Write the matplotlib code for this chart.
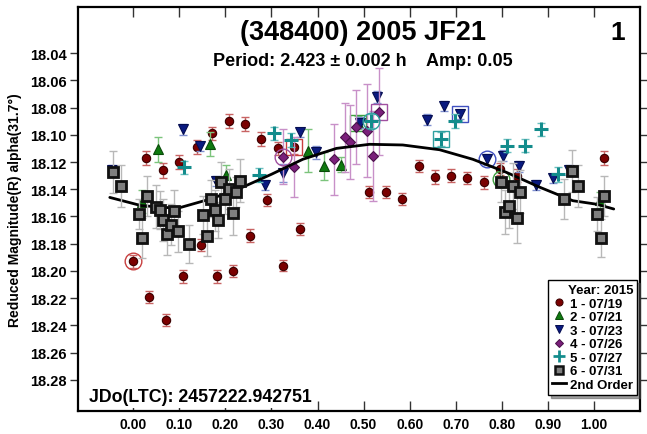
import matplotlib
matplotlib.use("Agg")
import matplotlib.pyplot as plt
from matplotlib.lines import Line2D

plt.rcParams['font.family'] = ['Liberation Sans', 'DejaVu Sans']
plt.rcParams['font.weight'] = 'bold'

# ---- observations per session: rotational phase, reduced magnitude, error ----
s1_phase = [0.000, 0.028, 0.035, 0.065, 0.070, 0.100, 0.107, 0.138, 0.146, 0.171,
            0.181, 0.207, 0.217, 0.243, 0.253, 0.278, 0.290, 0.314, 0.326, 0.348,
            0.363, 0.511, 0.548, 0.584, 0.620, 0.654, 0.690, 0.725, 0.761, 0.796,
            0.832, 1.022]
s1_mag = [18.193, 18.117, 18.219, 18.126, 18.236, 18.120, 18.204, 18.109, 18.181, 18.099,
          18.204, 18.090, 18.200, 18.092, 18.174, 18.103, 18.148, 18.110, 18.196, 18.109,
          18.169, 18.142, 18.142, 18.147, 18.123, 18.131, 18.130, 18.132, 18.135, 18.125,
          18.130, 18.117]
s1_err = [0.0045, 0.005, 0.0045, 0.0055, 0.0045, 0.005, 0.0045, 0.005, 0.0045, 0.005,
          0.0045, 0.005, 0.0045, 0.005, 0.0045, 0.005, 0.0045, 0.005, 0.004, 0.005,
          0.0045, 0.0045, 0.0045, 0.0045, 0.0042, 0.005, 0.0045, 0.0045, 0.0045, 0.0045,
          0.0045, 0.005]

s2_phase = [0.019, 0.054, 0.167, 0.202, 0.379, 0.415, 0.450, 0.488, 0.799, 1.013]
s2_mag = [18.149, 18.1105, 18.107, 18.1295, 18.1117, 18.123, 18.122, 18.091, 18.1325, 18.148]
s2_err = [0.0088, 0.0092, 0.0088, 0.0073, 0.016, 0.0103, 0.0055, 0.005, 0.006, 0.006]

s3_phase = [-0.047, 0.107, 0.144, 0.180, 0.287, 0.325, 0.361, 0.397, 0.493, 0.529,
            0.638, 0.674, 0.710, 0.767, 0.803, 0.838, 0.874, 0.912, 0.946]
s3_mag = [18.126, 18.096, 18.1085, 18.134, 18.137, 18.128, 18.098, 18.113, 18.091, 18.0725,
          18.089, 18.079, 18.085, 18.118, 18.1155, 18.123, 18.137, 18.132, 18.126]
s3_err = [0.0035, 0.004, 0.0035, 0.0035, 0.0035, 0.0064, 0.0033, 0.005, 0.004, 0.0045,
          0.004, 0.0035, 0.0035, 0.004, 0.004, 0.004, 0.0035, 0.0035, 0.0035]

s4_phase = [0.325, 0.348, 0.435, 0.459, 0.471, 0.484, 0.508, 0.520, 0.533]
s4_mag = [18.116, 18.124, 18.118, 18.102, 18.1055, 18.0945, 18.097, 18.1155, 18.083]
s4_err = [0.0205, 0.022, 0.026, 0.025, 0.027, 0.027, 0.034, 0.033, 0.032]

s5_phase = [0.111, 0.272, 0.305, 0.343, 0.517, 0.669, 0.699, 0.812, 0.850, 0.886, 0.922]
s5_mag = [18.124, 18.1295, 18.099, 18.104, 18.0897, 18.103, 18.0897, 18.108, 18.108, 18.096, 18.129]
s5_err = [0.0045, 0.005, 0.005, 0.005, 0.005, 0.005, 0.005, 0.005, 0.005, 0.005, 0.0055]

s6_phase = [-0.044, -0.027, 0.013, 0.020, 0.029, 0.049, 0.057, 0.065, 0.073, 0.082,
            0.088, 0.096, 0.120, 0.152, 0.161, 0.168, 0.177, 0.183, 0.191, 0.199,
            0.207, 0.216, 0.223, 0.232, 0.799, 0.808, 0.816, 0.825, 0.832, 0.839,
            0.935, 0.952, 0.966, 1.007, 1.015, 1.022]
s6_mag = [18.127, 18.1378, 18.1582, 18.1759, 18.1447, 18.1527, 18.1552, 18.1628, 18.173, 18.1661,
          18.1557, 18.1708, 18.1802, 18.1589, 18.1743, 18.1468, 18.1554, 18.1626, 18.1349, 18.1469,
          18.1396, 18.1577, 18.1422, 18.1337, 18.1345, 18.1569, 18.1525, 18.1378, 18.1613, 18.1418,
          18.1472, 18.1264, 18.1378, 18.1582, 18.176, 18.1447]
s6_err = [0.0154, 0.0154, 0.011, 0.0147, 0.0147, 0.0155, 0.014, 0.0155, 0.015, 0.015,
          0.015, 0.015, 0.0143, 0.014, 0.0147, 0.0134, 0.015, 0.0135, 0.015, 0.011,
          0.0147, 0.0157, 0.011, 0.016, 0.015, 0.016, 0.016, 0.017, 0.018, 0.016,
          0.0147, 0.0153, 0.0153, 0.0125, 0.014, 0.0147]

# second-order Fourier fit, sampled along the phase axis
fit_phase = [-0.051, 0.017, 0.096, 0.169, 0.234, 0.300, 0.368, 0.441, 0.513, 0.585,
             0.665, 0.737, 0.810, 0.883, 0.954, 1.006, 1.043]
fit_mag = [18.146, 18.152, 18.154, 18.147, 18.139, 18.129, 18.118, 18.110, 18.107, 18.1075,
           18.111, 18.118, 18.1276, 18.1386, 18.1484, 18.151, 18.1545]

session_labels = ["1 - 07/19", "2 - 07/21", "3 - 07/23", "4 - 07/26", "5 - 07/27", "6 - 07/31"]
# index of the first (circled) and last (boxed) point of each session
first_idx = [0, 8, 13, 0, 4, None]
last_idx = [19, 7, 12, 8, 5, None]

x_ticks = [0.0, 0.1, 0.2, 0.3, 0.4, 0.5, 0.6, 0.7, 0.8, 0.9, 1.0]
y_ticks = [18.04, 18.06, 18.08, 18.10, 18.12, 18.14, 18.16, 18.18, 18.20, 18.22, 18.24, 18.26, 18.28]

sessions = [
    (s1_phase, s1_mag, s1_err),
    (s2_phase, s2_mag, s2_err),
    (s3_phase, s3_mag, s3_err),
    (s4_phase, s4_mag, s4_err),
    (s5_phase, s5_mag, s5_err),
    (s6_phase, s6_mag, s6_err),
]

styles = [
    dict(marker='o', mfc='#7a0000', mec='#3a0000', ms=6.0, ecol='#c86464', mew=0.8),
    dict(marker='^', mfc='#0f7a0f', mec='#0a4a0a', ms=7.0, ecol='#7cc47c', mew=0.8),
    dict(marker='v', mfc='#0a1a80', mec='#050d50', ms=7.0, ecol='#7f8fd0', mew=0.8),
    dict(marker='D', mfc='#7a1f7a', mec='#4a104a', ms=5.0, ecol='#c890c8', mew=0.8),
    dict(marker='+', mfc='#138c8c', mec='#138c8c', ms=10.0, ecol='#6cc0c0', mew=2.2),
    dict(marker='s', mfc='#7f7f7f', mec='#111111', ms=7.5, ecol='#b8b8b8', mew=2.0),
]
ring_colors = ['#c84040', '#40a040', '#4050c0', '#a050a0', '#30a0a0', '#808080']

fig = plt.figure(figsize=(6.47, 4.35), dpi=100)
ax = fig.add_axes([78 / 647, 1 - 412 / 435, (640 - 78) / 647, (412 - 8) / 435])

for k, ((ph, mg, er), st) in enumerate(zip(sessions, styles)):
    z = 3 + k
    if k == 5:
        z = 10
    ax.errorbar(ph, mg, yerr=er, fmt='none', ecolor=st['ecol'], elinewidth=1.0,
                capsize=3, capthick=1.0, zorder=z)
    ax.plot(ph, mg, linestyle='none', marker=st['marker'], markersize=st['ms'],
            markerfacecolor=st['mfc'], markeredgecolor=st['mec'],
            markeredgewidth=st['mew'], color=st['mfc'], zorder=z + 0.5)
    if first_idx[k] is not None:
        i = first_idx[k]
        ax.plot([ph[i]], [mg[i]], linestyle='none', marker='o', markersize=12,
                markerfacecolor='none', markeredgecolor=ring_colors[k],
                markeredgewidth=1.0, zorder=z + 0.6)
    if last_idx[k] is not None:
        i = last_idx[k]
        ax.plot([ph[i]], [mg[i]], linestyle='none', marker='s', markersize=11,
                markerfacecolor='none', markeredgecolor=ring_colors[k],
                markeredgewidth=1.0, zorder=z + 0.6)

ax.plot(fit_phase, fit_mag, color='black', linewidth=2.0, zorder=9,
        solid_capstyle='round', solid_joinstyle='round')

ax.set_xlim(-0.12, 1.10)
ax.set_ylim(18.3028, 18.0062)

ax.set_xticks(x_ticks)
ax.set_xticklabels([f"{t:.2f}" for t in x_ticks])
ax.set_yticks(y_ticks)
ax.set_yticklabels([f"{t:.2f}" for t in y_ticks])
ax.tick_params(axis='x', direction='in', top=True, bottom=True, length=7, width=1.0,
               labelsize=10, pad=4, color='#333333')
ax.tick_params(axis='y', direction='out', left=True, right=True, length=6, width=1.0,
               labelsize=10.5, pad=2, color='#333333')
for lab in ax.get_xticklabels() + ax.get_yticklabels():
    lab.set_fontweight('bold')
for sp in ax.spines.values():
    sp.set_linewidth(1.6)

ax.set_ylabel("Reduced Magnitude(R) alpha(31.7°)", fontsize=10, fontweight='bold', labelpad=6)
ax.yaxis.set_label_coords(-0.1, 0.5)

fig.text(0.5605, 1 - 33 / 435, "(348400) 2005 JF21", fontsize=19.5, fontweight='bold',
         ha='center', va='center')
fig.text(0.5605, 1 - 61 / 435, "Period: 2.423 \u00b1 0.002 h    Amp: 0.05", fontsize=13,
         fontweight='bold', ha='center', va='center')
fig.text(618 / 647, 1 - 33 / 435, "1", fontsize=19, fontweight='bold', ha='center', va='center')
fig.text(89 / 647, 1 - 398 / 435, "JDo(LTC): 2457222.942751", fontsize=12.8, fontweight='bold',
         ha='left', va='center', zorder=20,
         bbox=dict(facecolor='white', edgecolor='none', pad=1.5))

handles = []
for lbl, st in zip(session_labels, styles):
    handles.append(Line2D([], [], linestyle='none', marker=st['marker'],
                          markersize=st['ms'] * 0.85, markerfacecolor=st['mfc'],
                          markeredgecolor=st['mec'], markeredgewidth=st['mew'] * 0.9,
                          label=lbl))
handles.append(Line2D([], [], color='black', linewidth=2.0, label='2nd Order'))

leg = ax.legend(handles=handles, title="Year: 2015", loc='upper left',
                bbox_to_anchor=(548 / 647, 1 - 281 / 435), bbox_transform=fig.transFigure,
                borderaxespad=0, frameon=True, fancybox=False, shadow=True,
                fontsize=9.5, title_fontsize=9.5, handlelength=1.1, handletextpad=0.3,
                labelspacing=0.1, borderpad=0.3, alignment='right')
leg.get_frame().set_edgecolor('black')
leg.get_frame().set_linewidth(1.0)
leg.get_title().set_fontweight('bold')
for t in leg.get_texts():
    t.set_fontweight('bold')
leg.set_zorder(30)

fig.savefig("out.png", dpi=100)
